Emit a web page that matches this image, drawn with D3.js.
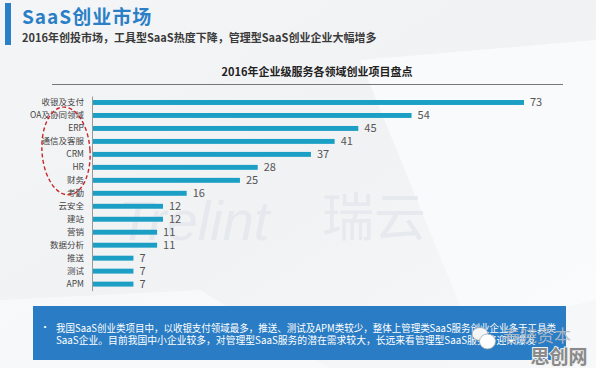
<!DOCTYPE html>
<html>
<head>
<meta charset="utf-8">
<script src="https://cdn.jsdelivr.net/npm/d3@7"></script>
<style>
  body { margin: 0; padding: 0; overflow: hidden; }
  svg { display: block; font-family: "Noto Sans CJK SC", "Noto Sans", sans-serif; }
</style>
</head>
<body>
<script>
var width = 596, height = 368;

// data
var categories = ["收银及支付", "OA及协同领域", "ERP", "通信及客服", "CRM", "HR", "财务", "考勤",
                  "云安全", "建站", "营销", "数据分析", "推送", "测试", "APM"];
var projects = [73, 54, 45, 41, 37, 28, 25, 16, 12, 12, 11, 11, 7, 7, 7];

var pageTitle = "SaaS创业市场";
var pageSubtitle = "2016年创投市场，工具型SaaS热度下降，管理型SaaS创业企业大幅增多";
var chartTitle = "2016年企业级服务各领域创业项目盘点";
var noteLines = ["我国SaaS创业类项目中，以收银支付领域最多，推送、测试及APM类较少，整体上管理类SaaS服务创业企业多于工具类",
                 "SaaS企业。目前我国中小企业较多，对管理型SaaS服务的潜在需求较大，长远来看管理型SaaS服务将迎来爆发"];

var svg = d3.select("body").append("svg")
    .attr("width", width)
    .attr("height", height);

// background
var defs = svg.append("defs");
var grad = defs.append("linearGradient").attr("id", "bg")
    .attr("x1", 0).attr("y1", 0).attr("x2", 1).attr("y2", 1);
grad.append("stop").attr("offset", "0%").attr("stop-color", "#f4f5f7");
grad.append("stop").attr("offset", "50%").attr("stop-color", "#f1f2f4");
grad.append("stop").attr("offset", "100%").attr("stop-color", "#f7f8f9");
svg.append("rect").attr("width", width).attr("height", height).attr("fill", "url(#bg)");
svg.append("polygon")
    .attr("points", "360,60 596,40 596,300 470,330")
    .attr("fill", "#fafbfc").attr("opacity", 0.8);
svg.append("polygon")
    .attr("points", "0,300 200,290 330,368 0,368")
    .attr("fill", "#fafbfc").attr("opacity", 0.7);

// watermark
svg.append("text")
    .attr("x", 118).attr("y", 240)
    .attr("font-size", 56).attr("font-style", "italic")
    .attr("font-family", "Liberation Sans, sans-serif")
    .attr("fill", "#e2e6eb").attr("opacity", 0.75)
    .text("Trelint");
svg.append("text")
    .attr("x", 322).attr("y", 236)
    .attr("font-size", 52)
    .attr("fill", "#e2e6eb").attr("opacity", 0.75)
    .text("瑞云");

// header
svg.append("rect").attr("x", 5).attr("y", 3).attr("width", 6).attr("height", 42).attr("fill", "#2b7fc6");
svg.append("text")
    .attr("x", 22).attr("y", 24)
    .attr("font-size", 19).attr("font-weight", "bold")
    .attr("letter-spacing", 1)
    .attr("fill", "#2b7fc6")
    .text(pageTitle);
svg.append("text")
    .attr("x", 22).attr("y", 42)
    .attr("font-size", 11).attr("font-weight", "bold")
    .attr("fill", "#3a3a3a")
    .text(pageSubtitle);

// chart title
svg.append("text")
    .attr("x", 317).attr("y", 76)
    .attr("text-anchor", "middle")
    .attr("font-size", 11).attr("font-weight", "bold")
    .attr("fill", "#222")
    .text(chartTitle);
svg.append("line")
    .attr("x1", 52).attr("x2", 563).attr("y1", 84.5).attr("y2", 84.5)
    .attr("stroke", "#777").attr("stroke-width", 1);

// scales
var x = d3.scaleLinear().domain([0, 73]).range([92, 524]);
var y = d3.scaleBand().domain(categories).range([96, 290.6])
    .paddingInner(0.62).paddingOuter(0.31);

var rows = categories.map(function(c, i) { return { cat: c, val: projects[i] }; });

svg.selectAll(".bar").data(rows).enter().append("rect")
    .attr("class", "bar")
    .attr("x", x(0))
    .attr("y", function(d) { return y(d.cat); })
    .attr("width", function(d) { return x(d.val) - x(0); })
    .attr("height", y.bandwidth())
    .attr("fill", "#1b9fc4");

svg.selectAll(".val").data(rows).enter().append("text")
    .attr("class", "val")
    .attr("x", function(d) { return x(d.val) + 6; })
    .attr("y", function(d) { return y(d.cat) + y.bandwidth() / 2; })
    .attr("dy", "0.36em")
    .attr("font-size", 11)
    .attr("fill", "#555")
    .text(function(d) { return d.val; });

var yAxis = svg.append("g")
    .attr("transform", "translate(" + x(0) + ",0)")
    .call(d3.axisLeft(y).tickSize(0).tickPadding(8));
yAxis.select(".domain").attr("stroke", "#999");
yAxis.selectAll("text")
    .attr("font-size", 8.5)
    .attr("fill", "#444")
    .attr("font-family", "Noto Sans CJK SC, sans-serif");

// red dashed ellipse round the management categories
svg.append("ellipse")
    .attr("cx", 66).attr("cy", 151)
    .attr("rx", 24).attr("ry", 44)
    .attr("transform", "rotate(-4,66,151)")
    .attr("fill", "none")
    .attr("stroke", "#c8282b")
    .attr("stroke-width", 1.4)
    .attr("stroke-dasharray", "4,2.5");

// note box
svg.append("rect")
    .attr("x", 33).attr("y", 306).attr("width", 533).attr("height", 54)
    .attr("fill", "#2a7dc4");
svg.append("text")
    .attr("x", 40).attr("y", 331)
    .attr("font-size", 10).attr("fill", "#fff")
    .text("•");
svg.selectAll(".note").data(noteLines).enter().append("text")
    .attr("class", "note")
    .attr("x", 56)
    .attr("y", function(d, i) { return 331.5 + i * 12; })
    .attr("font-size", 9.8)
    .attr("fill", "#fff")
    .attr("textLength", function(d, i) { return i == 0 ? 500 : null; })
    .attr("lengthAdjust", "spacingAndGlyphs")
    .text(function(d) { return d; });

// wechat bubbles + corner watermarks
svg.append("ellipse").attr("cx", 480).attr("cy", 334).attr("rx", 8).attr("ry", 6.5)
    .attr("fill", "#f4f5f6").attr("stroke", "#9aa3ad").attr("stroke-width", 0.8);
svg.append("ellipse").attr("cx", 487.5).attr("cy", 341.5).attr("rx", 8).attr("ry", 7.5)
    .attr("fill", "#fff").attr("stroke", "#9aa3ad").attr("stroke-width", 0.8);
svg.append("text")
    .attr("x", 503).attr("y", 342)
    .attr("font-size", 17)
    .attr("fill", "#b4bcc5").attr("opacity", 0.9)
    .text("春晓资本");
svg.append("text")
    .attr("x", 559).attr("y", 364)
    .attr("text-anchor", "middle")
    .attr("font-size", 19).attr("font-weight", "bold")
    .attr("stroke", "#f2f2f2").attr("stroke-width", 2).attr("paint-order", "stroke")
    .attr("fill", "#8a8a8a")
    .text("思创网");
</script>
</body>
</html>
